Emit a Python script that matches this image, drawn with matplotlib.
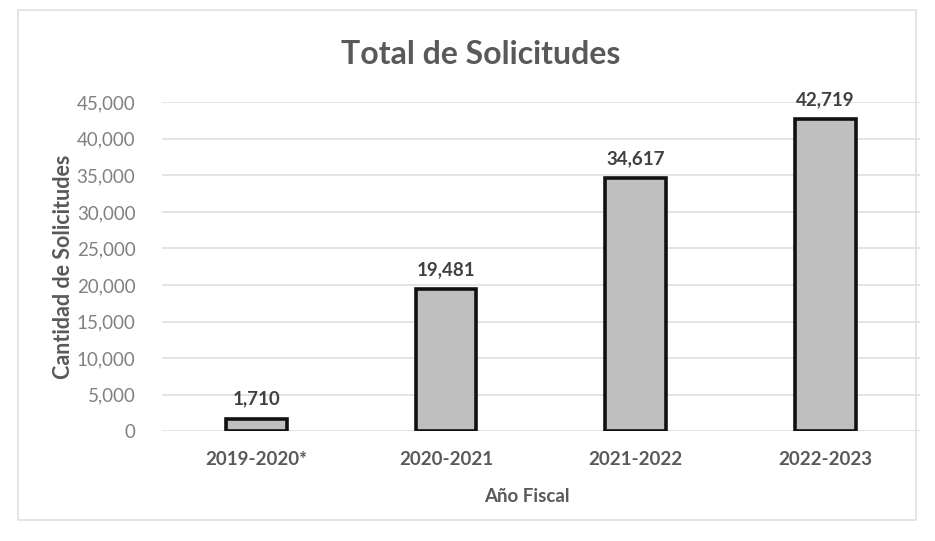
import matplotlib
matplotlib.use("Agg")
from matplotlib import pyplot as plt
from matplotlib.patches import Rectangle
from matplotlib.ticker import FuncFormatter

categories = ["2019-2020*", "2020-2021", "2021-2022", "2022-2023"]
solicitudes = [1710, 19481, 34617, 42719]
y_ticks = list(range(0, 45001, 5000))

plt.rcParams["font.family"] = ["Lato", "DejaVu Sans"]

fig = plt.figure(figsize=(9.35, 5.41), dpi=100)
ax = fig.add_axes([0.173, 0.203, 0.811, 0.608])

x = range(len(categories))
bars = ax.bar(x, solicitudes, width=0.32, color="#bfbfbf", edgecolor="#111111", linewidth=2.6, zorder=3)

for b, v in zip(bars, solicitudes):
    ax.text(b.get_x() + b.get_width() / 2, v + 1500, f"{v:,}", ha="center", va="bottom",
            fontsize=13.5, fontweight="bold", color="#404040")

ax.set_ylim(0, 45000)
ax.set_xlim(-0.5, len(categories) - 0.5)
ax.set_yticks(y_ticks)
ax.yaxis.set_major_formatter(FuncFormatter(lambda v, p: f"{int(v):,}"))
ax.set_xticks(list(x))
ax.set_xticklabels(categories, fontsize=13.5, fontweight="bold", color="#595959")
ax.tick_params(axis="y", labelsize=13.5, labelcolor="#808080", length=0, pad=19)
ax.tick_params(axis="x", length=0, pad=14)
ax.grid(axis="y", color="#e0e0e0", linewidth=1.3, zorder=0)
for s in ax.spines.values():
    s.set_visible(False)

fig.text(481 / 935, 1 - 55 / 541, "Total de Solicitudes", ha="center", va="center",
         fontsize=23, fontweight="bold", color="#595959")
ax.set_xlabel("Año Fiscal", fontsize=13.5, fontweight="bold", color="#595959")
ax.xaxis.set_label_coords(0.482, -0.172)
ax.set_ylabel("Cantidad de Solicitudes", fontsize=15.5, fontweight="bold", color="#595959", labelpad=2)

fig.patches.append(Rectangle((18 / 935, 1 - 520 / 541), 898 / 935, 510 / 541, transform=fig.transFigure,
                             fill=False, edgecolor="#e0e0e0", linewidth=1.2))

fig.savefig("out.png", dpi=100)
